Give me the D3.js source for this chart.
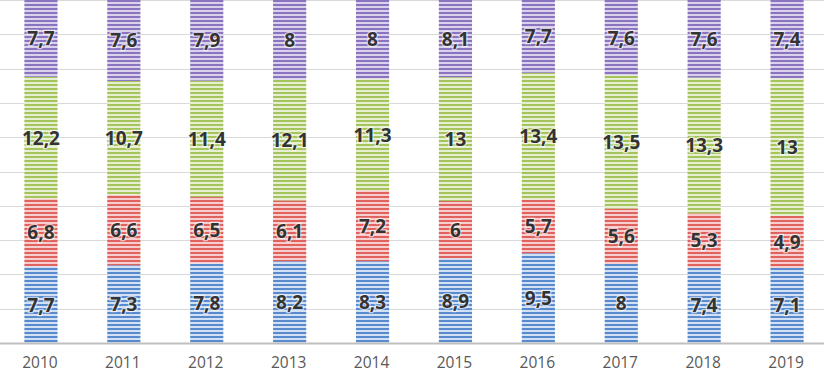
<!DOCTYPE html>
<html>
<head>
<meta charset="utf-8">
<script src="https://cdn.jsdelivr.net/npm/d3@7"></script>
<style>
  body { margin: 0; background: #fff; }
  svg { display: block; }
</style>
</head>
<body>
<svg width="824" height="373"></svg>
<script>
const years = ['2010', '2011', '2012', '2013', '2014', '2015', '2016', '2017', '2018', '2019']
const seriesNames = ['s1', 's2', 's3', 's4']
const s1 = [7.7, 7.3, 7.8, 8.2, 8.3, 8.9, 9.5, 8, 7.4, 7.1]
const s2 = [6.8, 6.6, 6.5, 6.1, 7.2, 6, 5.7, 5.6, 5.3, 4.9]
const s3 = [12.2, 10.7, 11.4, 12.1, 11.3, 13, 13.4, 13.5, 13.3, 13]
const s4 = [7.7, 7.6, 7.9, 8, 8, 8.1, 7.7, 7.6, 7.6, 7.4]
const gridTicks = [0, 0.1, 0.2, 0.3, 0.4, 0.5, 0.6, 0.7, 0.8, 0.9, 1]

// stripe colours: [dark, light]
const stripes = [
  ['#5a8ace', '#d2e0f3'],
  ['#e0625f', '#f7cecd'],
  ['#a6c45c', '#e6efd2'],
  ['#8b74bf', '#dad2ec']
]

let svg = d3.select('svg')
let width = +svg.attr('width')
let height = +svg.attr('height')

const rows = years.map((y, i) => ({ year: y, s1: s1[i], s2: s2[i], s3: s3[i], s4: s4[i] }))
const stacked = d3.stack().keys(seriesNames).offset(d3.stackOffsetExpand)(rows)

const x = d3.scaleBand().domain(years).range([-0.5, 828.5]).paddingInner(0.6).paddingOuter(0.3)
const y = d3.scaleLinear().domain([0, 1]).range([343, 0])

// patterns
const defs = svg.append('defs')
stripes.forEach((c, i) => {
  const p = defs.append('pattern')
    .attr('id', 'pat' + i)
    .attr('patternUnits', 'userSpaceOnUse')
    .attr('width', 8).attr('height', 4)
  p.append('rect').attr('width', 8).attr('height', 4).attr('fill', c[1])
  p.append('rect').attr('width', 8).attr('height', 2).attr('fill', c[0])
})

// grid
svg.append('g')
  .selectAll('line')
  .data(gridTicks.slice(1))
  .join('line')
  .attr('x1', 0).attr('x2', width)
  .attr('y1', d => Math.round(y(d)) + 0.5).attr('y2', d => Math.round(y(d)) + 0.5)
  .attr('stroke', '#d9d9d9')

// bars
const layer = svg.append('g')
  .selectAll('g')
  .data(stacked)
  .join('g')
  .attr('fill', (d, i) => `url(#pat${i})`)

layer.selectAll('rect')
  .data(d => d)
  .join('rect')
  .attr('x', d => x(d.data.year))
  .attr('width', x.bandwidth())
  .attr('y', d => y(d[1]))
  .attr('height', d => y(d[0]) - y(d[1]))

// axis line
svg.append('line')
  .attr('x1', 0).attr('x2', width)
  .attr('y1', 343.5).attr('y2', 343.5)
  .attr('stroke', '#bfbfbf').attr('stroke-width', 2)

// year labels
svg.append('g')
  .selectAll('text')
  .data(years)
  .join('text')
  .attr('x', d => x(d) + x.bandwidth() / 2 - 1)
  .attr('y', 368)
  .attr('text-anchor', 'middle')
  .attr('font-family', 'Open Sans, sans-serif')
  .attr('font-size', 15.5)
  .attr('fill', '#595959')
  .text(d => d)

// value labels
layer.selectAll('text')
  .data(d => d.map(v => ({ v, key: d.key })))
  .join('text')
  .attr('x', d => x(d.v.data.year) + x.bandwidth() / 2)
  .attr('y', d => (y(d.v[0]) + y(d.v[1])) / 2 + 7)
  .attr('text-anchor', 'middle')
  .attr('font-family', 'Open Sans, sans-serif')
  .attr('font-weight', 'bold')
  .attr('font-size', 19)
  .attr('fill', '#333333')
  .attr('stroke', 'rgba(255,255,255,0.6)')
  .attr('stroke-width', 2.5)
  .attr('paint-order', 'stroke')
  .text(d => String(d.v.data[d.key]).replace('.', ','))
</script>
</body>
</html>
